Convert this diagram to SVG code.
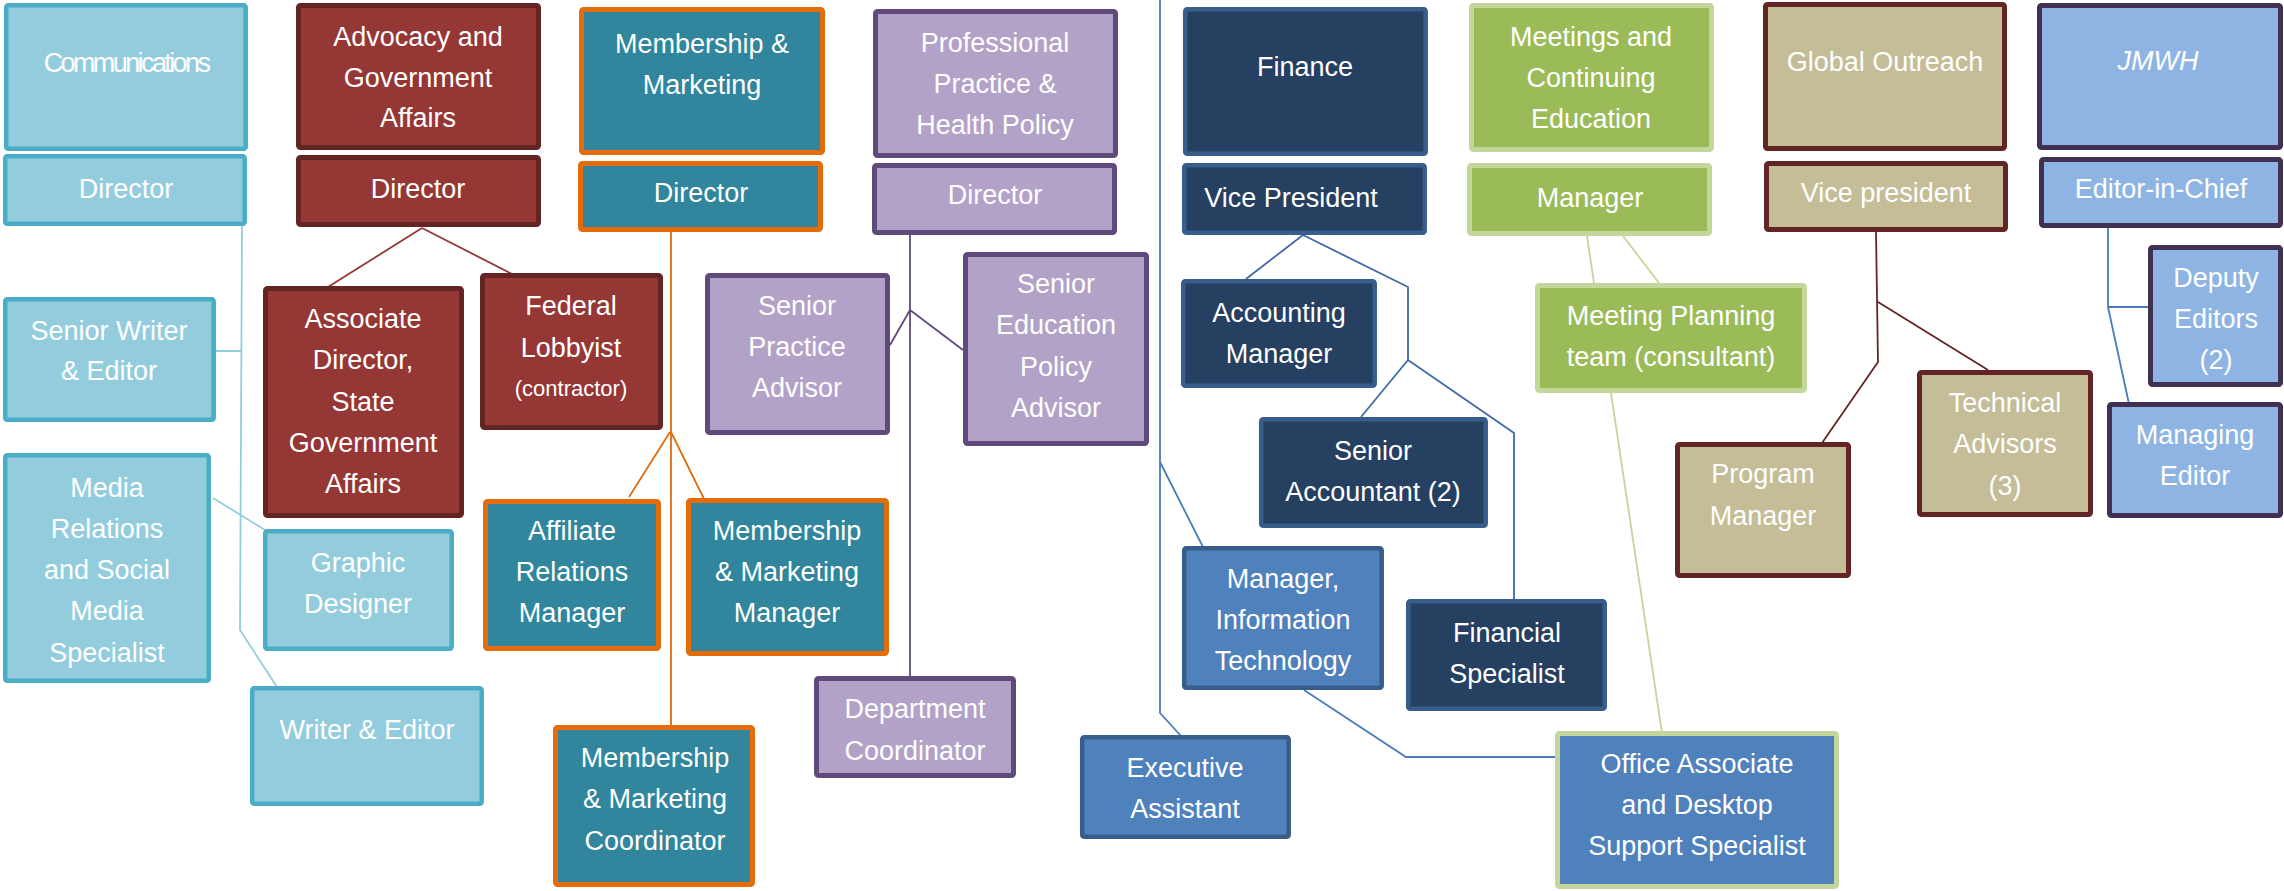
<svg xmlns="http://www.w3.org/2000/svg" width="2284" height="891" viewBox="0 0 2284 891">
<style>
rect{stroke-width:5}
.cm{fill:#93CDDD;stroke:#4BACC6;stroke-width:4.5}
.ad{fill:#953735;stroke:#632523}
.mm{fill:#31859C;stroke:#E46C0A}
.pp{fill:#B3A2C7;stroke:#604A7B}
.fn{fill:#254061;stroke:#385D8A;stroke-width:4.5}
.it{fill:#4F81BD;stroke:#385D8A;stroke-width:4.5}
.oa{fill:#4F81BD;stroke:#C3D69B}
.me{fill:#9BBB59;stroke:#C3D69B}
.go{fill:#C4BD97;stroke:#632523}
.jm{fill:#8EB4E3;stroke:#403152}
text{fill:#FFFFFF;font-family:"Liberation Sans",Arial,sans-serif;font-size:27px;text-anchor:middle}
.sm{font-size:22px}
.cond{letter-spacing:-2.6px}
.ital{font-style:italic}
#connectors path{fill:none;stroke-width:1.8}
</style>
<g id="connectors">
<path d="M242 226 L240 630 L277 687 M216 351 L241 351 M213 498 L265 530" stroke="#93CDDD"/>
<path d="M422 228 L328 287 M422 228 L514 275" stroke="#953735"/>
<path d="M671 232 L671 725 M670 432 L629 497 M671 432 L706 503" stroke="#E46C0A"/>
<path d="M910 235 L910 676 M910 310 L890 345 M910 310 L963 350" stroke="#604A7B"/>
<path d="M1303 235 L1246 279 M1303 235 L1408 287 L1408 360 L1361 417 M1408 360 L1514 433 L1514 599" stroke="#3F6AA6"/>
<path d="M1160 0 L1160 713 L1181 736 M1160 462 L1204 549 M1304 690 L1406 757 L1557 757" stroke="#4A7CBB"/>
<path d="M1587 236 L1594 283 M1623 236 L1659 283 M1611 393 L1662 733" stroke="#C3D69B"/>
<path d="M1876 232 L1878 362 L1822 443 M1878 302 L1988 370" stroke="#632523"/>
<path d="M2108 228 L2108 307 L2149 307 M2108 307 L2129 404" stroke="#4A7CBB"/>
</g>
<g id="communications"><rect class="cm" x="6.2" y="5.2" width="239.5" height="143.5" rx="2"/><text class="cond" x="126" y="72">Communications</text></g>
<g id="comm-director"><rect class="cm" x="5.2" y="156.2" width="239.5" height="67.5" rx="2"/><text x="126" y="198">Director</text></g>
<g id="senior-writer"><rect class="cm" x="5.2" y="299.2" width="208.5" height="120.5" rx="2"/><text x="109" y="340">Senior Writer</text><text x="109" y="380">&amp; Editor</text></g>
<g id="media-relations"><rect class="cm" x="5.2" y="455.2" width="203.5" height="225.5" rx="2"/><text x="107" y="497">Media</text><text x="107" y="538">Relations</text><text x="107" y="579">and Social</text><text x="107" y="620">Media</text><text x="107" y="662">Specialist</text></g>
<g id="graphic-designer"><rect class="cm" x="265.2" y="531.2" width="186.5" height="117.5" rx="2"/><text x="358" y="572">Graphic</text><text x="358" y="613">Designer</text></g>
<g id="writer-editor"><rect class="cm" x="252.2" y="688.2" width="229.5" height="115.5" rx="2"/><text x="367" y="739">Writer &amp; Editor</text></g>
<g id="advocacy"><rect class="ad" x="298.5" y="5.5" width="240" height="142" rx="2"/><text x="418" y="46">Advocacy and</text><text x="418" y="87">Government</text><text x="418" y="127">Affairs</text></g>
<g id="adv-director"><rect class="ad" x="298.5" y="157.5" width="240" height="67" rx="2"/><text x="418" y="198">Director</text></g>
<g id="assoc-director"><rect class="ad" x="265.5" y="288.5" width="196" height="227" rx="2"/><text x="363" y="328">Associate</text><text x="363" y="369">Director,</text><text x="363" y="411">State</text><text x="363" y="452">Government</text><text x="363" y="493">Affairs</text></g>
<g id="federal-lobbyist"><rect class="ad" x="482.5" y="275.5" width="178" height="152" rx="2"/><text x="571" y="315">Federal</text><text x="571" y="357">Lobbyist</text><text class="sm" x="571" y="396">(contractor)</text></g>
<g id="membership"><rect class="mm" x="581.5" y="9.5" width="241" height="143" rx="2"/><text x="702" y="53">Membership &amp;</text><text x="702" y="94">Marketing</text></g>
<g id="mm-director"><rect class="mm" x="580.5" y="163.5" width="240" height="66" rx="2"/><text x="701" y="202">Director</text></g>
<g id="affiliate"><rect class="mm" x="485.5" y="501.5" width="173" height="147" rx="2"/><text x="572" y="540">Affiliate</text><text x="572" y="581">Relations</text><text x="572" y="622">Manager</text></g>
<g id="mm-manager"><rect class="mm" x="688.5" y="500.5" width="198" height="153" rx="2"/><text x="787" y="540">Membership</text><text x="787" y="581">&amp; Marketing</text><text x="787" y="622">Manager</text></g>
<g id="mm-coordinator"><rect class="mm" x="555.5" y="727.5" width="197" height="157" rx="2"/><text x="655" y="767">Membership</text><text x="655" y="808">&amp; Marketing</text><text x="655" y="850">Coordinator</text></g>
<g id="pphp"><rect class="pp" x="875.5" y="11.5" width="240" height="144" rx="2"/><text x="995" y="52">Professional</text><text x="995" y="93">Practice &amp;</text><text x="995" y="134">Health Policy</text></g>
<g id="pphp-director"><rect class="pp" x="874.5" y="165.5" width="240" height="67" rx="2"/><text x="995" y="204">Director</text></g>
<g id="senior-practice"><rect class="pp" x="707.5" y="275.5" width="180" height="157" rx="2"/><text x="797" y="315">Senior</text><text x="797" y="356">Practice</text><text x="797" y="397">Advisor</text></g>
<g id="senior-education"><rect class="pp" x="965.5" y="254.5" width="181" height="189" rx="2"/><text x="1056" y="293">Senior</text><text x="1056" y="334">Education</text><text x="1056" y="376">Policy</text><text x="1056" y="417">Advisor</text></g>
<g id="dept-coordinator"><rect class="pp" x="816.5" y="678.5" width="197" height="97" rx="2"/><text x="915" y="718">Department</text><text x="915" y="760">Coordinator</text></g>
<g id="finance"><rect class="fn" x="1185.2" y="9.2" width="240.5" height="144.5" rx="2"/><text x="1305" y="76">Finance</text></g>
<g id="finance-vp"><rect class="fn" x="1184.2" y="165.2" width="240.5" height="67.5" rx="2"/><text x="1291" y="207">Vice President</text></g>
<g id="accounting-manager"><rect class="fn" x="1183.2" y="281.2" width="191.5" height="104.5" rx="2"/><text x="1279" y="322">Accounting</text><text x="1279" y="363">Manager</text></g>
<g id="senior-accountant"><rect class="fn" x="1261.2" y="419.2" width="224.5" height="106.5" rx="2"/><text x="1373" y="460">Senior</text><text x="1373" y="501">Accountant (2)</text></g>
<g id="manager-it"><rect class="it" x="1184.2" y="548.2" width="197.5" height="139.5" rx="2"/><text x="1283" y="588">Manager,</text><text x="1283" y="629">Information</text><text x="1283" y="670">Technology</text></g>
<g id="financial-specialist"><rect class="fn" x="1408.2" y="601.2" width="196.5" height="107.5" rx="2"/><text x="1507" y="642">Financial</text><text x="1507" y="683">Specialist</text></g>
<g id="executive-assistant"><rect class="it" x="1082.2" y="737.2" width="206.5" height="99.5" rx="2"/><text x="1185" y="777">Executive</text><text x="1185" y="818">Assistant</text></g>
<g id="office-associate"><rect class="oa" x="1557.5" y="733.5" width="279" height="153" rx="2"/><text x="1697" y="773">Office Associate</text><text x="1697" y="814">and Desktop</text><text x="1697" y="855">Support Specialist</text></g>
<g id="meetings"><rect class="me" x="1471.5" y="5.5" width="240" height="144" rx="2"/><text x="1591" y="46">Meetings and</text><text x="1591" y="87">Continuing</text><text x="1591" y="128">Education</text></g>
<g id="meetings-manager"><rect class="me" x="1469.5" y="165.5" width="240" height="68" rx="2"/><text x="1590" y="207">Manager</text></g>
<g id="meeting-planning"><rect class="me" x="1537.5" y="285.5" width="267" height="105" rx="2"/><text x="1671" y="325">Meeting Planning</text><text x="1671" y="366">team (consultant)</text></g>
<g id="global-outreach"><rect class="go" x="1765.5" y="4.5" width="239" height="144" rx="2"/><text x="1885" y="71">Global Outreach</text></g>
<g id="global-vp"><rect class="go" x="1766.5" y="163.5" width="239" height="66" rx="2"/><text x="1886" y="202">Vice president</text></g>
<g id="program-manager"><rect class="go" x="1677.5" y="444.5" width="171" height="131" rx="2"/><text x="1763" y="483">Program</text><text x="1763" y="525">Manager</text></g>
<g id="technical-advisors"><rect class="go" x="1919.5" y="372.5" width="171" height="142" rx="2"/><text x="2005" y="412">Technical</text><text x="2005" y="453">Advisors</text><text x="2005" y="495">(3)</text></g>
<g id="jmwh"><rect class="jm" x="2039.5" y="5.5" width="241" height="142" rx="2"/><text class="ital" x="2158" y="70">JMWH</text></g>
<g id="editor-in-chief"><rect class="jm" x="2041.5" y="159.5" width="239" height="66" rx="2"/><text x="2161" y="198">Editor-in-Chief</text></g>
<g id="deputy-editors"><rect class="jm" x="2150.5" y="247.5" width="130" height="137" rx="2"/><text x="2216" y="287">Deputy</text><text x="2216" y="328">Editors</text><text x="2216" y="369">(2)</text></g>
<g id="managing-editor"><rect class="jm" x="2109.5" y="404.5" width="171" height="111" rx="2"/><text x="2195" y="444">Managing</text><text x="2195" y="485">Editor</text></g>
</svg>
